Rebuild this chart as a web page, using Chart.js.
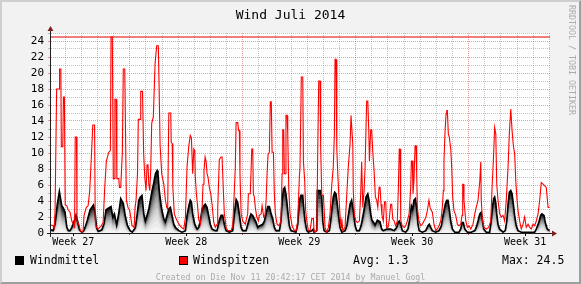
<!DOCTYPE html>
<html><head><meta charset="utf-8">
<script src="https://cdn.jsdelivr.net/npm/chart.js@4.4.1/dist/chart.umd.min.js"></script>
<style>
html,body{margin:0;padding:0;background:#f2f2f2;}
#wrap{position:relative;width:581px;height:284px;background:#f2f2f2;overflow:hidden;font-family:'DejaVu Sans Mono',monospace;}
#c{position:absolute;left:0;top:0;}
#frame{position:absolute;left:0;top:0;width:581px;height:284px;box-sizing:border-box;border:2px solid;border-color:#cfcfcf #9e9e9e #9e9e9e #cfcfcf;pointer-events:none;}
.t{position:absolute;white-space:pre;color:#000;}
#title{left:0;width:581px;text-align:center;top:7px;font-size:13px;line-height:15px;}
.leg{top:253px;font-size:11.5px;line-height:14px;}
.box{position:absolute;width:7px;height:7px;border:1px solid #000;top:256px;}
#wm{position:absolute;left:567px;top:5px;writing-mode:vertical-rl;font-size:8.3px;line-height:10px;color:#ababab;white-space:pre;}
#foot{left:0;width:581px;text-align:center;top:272px;font-size:8.3px;line-height:10px;color:#ababab;}
</style></head>
<body>
<div id="wrap">
<canvas id="c" width="581" height="284"></canvas>
<div id="title" class="t"></div>
<div class="box" style="left:15px;background:#000;"></div>
<div id="l1" class="t leg" style="left:30px;"></div>
<div class="box" style="left:179px;background:#ff0000;"></div>
<div id="l2" class="t leg" style="left:193px;"></div>
<div id="l3" class="t leg" style="left:353px;"></div>
<div id="l4" class="t leg" style="left:502px;"></div>
<div id="wm"></div>
<div id="foot" class="t"></div>
<div id="frame"></div>
</div>
<script>
// ---- data (x = day of July 2014, y = m/s) ----
const chartTitle = 'Wind Juli 2014';
const seriesNames = ['Windmittel', 'Windspitzen'];
const avgMean = 1.3;
const maxGust = 24.5;
const rangeStart = 2.12;
const rangeEnd = 33.04;
const dayGridTicks = [3,4,5,6,7,8,9,10,11,12,13,14,15,16,17,18,19,20,21,22,23,24,25,26,27,28,29,30,31,32,33];
const weekTickDays = [3.5, 10.5, 17.5, 24.5, 31.5];
const weekLabels = ['Week 27','Week 28','Week 29','Week 30','Week 31'];
const yTicks = [0,1,2,3,4,5,6,7,8,9,10,11,12,13,14,15,16,17,18,19,20,21,22,23,24,25];

const gustReadings = [
[2.12,1.0],[2.25,0.9],[2.31,0.6],[2.37,2.6],[2.47,18.0],[2.62,18.0],[2.65,20.5],[2.73,20.5],[2.76,10.8],[2.85,10.8],
[2.89,17.0],[2.95,17.0],[3.00,3.5],[3.10,3.4],[3.18,2.9],[3.30,2.6],[3.41,1.5],[3.55,0.9],[3.58,0.6],[3.62,12.0],
[3.70,12.0],[3.73,1.5],[3.84,1.1],[3.94,0.3],[4.04,0.1],[4.11,0.3],[4.17,2.2],[4.31,3.2],[4.42,3.4],[4.52,5.3],
[4.62,9.5],[4.71,13.5],[4.82,13.5],[4.86,1.5],[4.93,0.7],[5.04,0.5],[5.14,0.7],[5.24,0.9],[5.35,1.3],[5.45,5.7],
[5.55,9.0],[5.70,10.1],[5.80,10.3],[5.84,24.5],[5.92,24.5],[5.98,6.8],[6.06,6.8],[6.08,16.7],[6.16,16.7],[6.20,6.8],
[6.32,6.8],[6.36,5.7],[6.44,5.7],[6.54,10.0],[6.60,20.5],[6.69,20.5],[6.79,4.1],[6.89,3.2],[7.00,2.8],[7.14,0.9],
[7.27,0.7],[7.33,3.2],[7.39,4.1],[7.48,7.4],[7.53,14.2],[7.66,14.2],[7.68,17.7],[7.79,17.7],[7.86,10.0],[7.93,7.0],
[8.01,5.3],[8.07,8.5],[8.13,8.6],[8.18,6.1],[8.24,5.3],[8.30,8.0],[8.36,13.7],[8.46,14.5],[8.57,21.2],[8.67,23.4],
[8.77,23.4],[8.82,18.0],[8.88,11.0],[8.98,7.4],[9.11,6.1],[9.21,4.1],[9.29,3.2],[9.35,3.0],[9.42,15.0],[9.54,15.0],
[9.57,11.3],[9.63,11.2],[9.67,5.7],[9.76,2.4],[9.87,1.8],[10.04,1.1],[10.20,0.7],[10.35,0.5],[10.45,2.0],[10.55,8.3],
[10.66,10.9],[10.75,12.2],[10.82,11.9],[10.90,7.4],[10.97,10.5],[11.03,10.3],[11.06,7.0],[11.13,4.9],[11.21,3.2],[11.27,1.7],
[11.37,1.1],[11.48,3.0],[11.54,6.1],[11.60,7.8],[11.67,9.5],[11.73,9.0],[11.79,7.4],[11.85,7.0],[11.93,5.7],[12.02,4.9],
[12.10,3.6],[12.20,1.4],[12.30,0.7],[12.41,1.1],[12.45,3.0],[12.55,9.2],[12.66,9.5],[12.72,9.5],[12.80,5.3],[12.86,2.4],
[12.97,0.7],[13.07,0.3],[13.28,0.3],[13.38,0.9],[13.48,5.3],[13.54,8.2],[13.59,13.8],[13.69,13.8],[13.75,12.8],[13.79,12.8],
[13.83,7.4],[13.90,2.4],[14.00,1.5],[14.16,1.1],[14.31,2.4],[14.35,4.9],[14.47,4.9],[14.56,10.5],[14.62,10.5],[14.66,4.9],
[14.72,4.5],[14.78,3.2],[14.87,2.0],[14.97,1.5],[15.03,2.2],[15.14,2.4],[15.20,3.4],[15.24,3.4],[15.30,2.0],[15.38,2.2],
[15.45,4.1],[15.51,7.4],[15.57,9.8],[15.65,10.1],[15.71,16.4],[15.77,16.4],[15.82,10.1],[15.90,10.1],[15.96,4.9],[16.02,2.4],
[16.13,1.1],[16.27,0.9],[16.37,1.6],[16.44,7.4],[16.48,12.9],[16.54,12.9],[16.58,7.4],[16.64,7.4],[16.68,14.7],[16.75,14.7],
[16.79,12.4],[16.85,5.7],[16.93,2.4],[17.06,0.9],[17.20,0.3],[17.30,0.3],[17.41,1.5],[17.47,4.9],[17.51,7.0],[17.55,8.2],
[17.63,19.5],[17.72,19.5],[17.76,9.0],[17.84,6.5],[17.90,2.8],[17.97,1.5],[18.07,0.3],[18.17,0.3],[18.28,1.8],[18.38,1.8],
[18.42,0.3],[18.48,0.1],[18.59,0.3],[18.65,10.5],[18.71,19.0],[18.79,19.0],[18.83,10.5],[18.90,4.7],[19.00,4.7],[19.06,2.4],
[19.10,0.7],[19.21,0.1],[19.31,0.7],[19.41,2.4],[19.52,6.1],[19.61,8.2],[19.68,12.4],[19.72,21.7],[19.78,21.7],[19.83,10.5],
[19.89,7.4],[19.95,4.9],[20.03,2.2],[20.09,0.7],[20.14,1.8],[20.20,0.3],[20.34,0.7],[20.45,4.9],[20.54,8.2],[20.65,11.1],
[20.71,14.7],[20.77,14.7],[20.82,11.1],[20.85,5.3],[20.92,2.2],[21.02,1.5],[21.10,1.3],[21.23,1.5],[21.31,4.9],[21.37,8.9],
[21.44,3.2],[21.52,5.3],[21.58,8.2],[21.68,16.5],[21.75,16.5],[21.81,12.8],[21.85,9.0],[21.93,12.9],[21.99,12.9],[22.06,10.1],
[22.14,7.8],[22.22,4.5],[22.30,4.1],[22.37,3.2],[22.45,5.7],[22.51,5.7],[22.57,3.6],[22.63,2.2],[22.71,1.5],[22.79,3.9],
[22.86,3.9],[22.92,0.7],[23.00,0.7],[23.07,1.5],[23.17,3.6],[23.23,3.6],[23.30,1.7],[23.38,1.5],[23.48,0.9],[23.58,1.5],
[23.64,5.3],[23.70,10.5],[23.75,10.5],[23.79,1.6],[23.89,0.9],[24.00,0.7],[24.10,0.9],[24.20,1.5],[24.31,2.4],[24.41,5.7],
[24.45,9.0],[24.51,9.0],[24.55,4.9],[24.61,6.5],[24.68,10.9],[24.74,10.9],[24.78,7.4],[24.82,3.2],[24.92,1.5],[25.03,0.9],
[25.13,1.1],[25.23,1.5],[25.34,1.9],[25.44,2.8],[25.54,4.1],[25.61,3.2],[25.69,2.8],[25.75,2.6],[25.85,1.1],[25.96,0.3],
[26.06,0.5],[26.16,0.9],[26.27,1.5],[26.37,3.2],[26.43,5.3],[26.47,9.0],[26.54,12.8],[26.60,14.9],[26.64,15.3],[26.68,15.3],
[26.74,12.4],[26.80,12.0],[26.89,10.5],[26.95,8.2],[27.01,4.5],[27.09,2.8],[27.20,2.2],[27.30,1.1],[27.40,0.9],[27.51,1.1],
[27.59,2.2],[27.63,6.1],[27.67,6.1],[27.71,4.1],[27.82,1.5],[27.92,0.7],[28.02,0.9],[28.13,0.5],[28.27,1.1],[28.38,2.4],
[28.47,3.2],[28.58,4.1],[28.69,6.5],[28.75,8.9],[28.78,4.1],[28.85,1.7],[28.95,0.7],[29.09,0.5],[29.24,0.7],[29.37,1.5],
[29.45,5.7],[29.53,9.0],[29.61,13.2],[29.68,12.4],[29.74,6.1],[29.82,4.1],[29.92,2.4],[30.02,2.0],[30.13,2.2],[30.23,1.5],
[30.33,4.1],[30.44,8.2],[30.52,12.4],[30.61,15.5],[30.69,12.8],[30.77,10.9],[30.85,9.9],[30.92,6.5],[31.00,4.1],[31.06,2.8],
[31.16,1.5],[31.26,0.5],[31.37,1.1],[31.47,2.0],[31.57,0.7],[31.68,1.1],[31.78,0.7],[31.88,0.5],[31.99,1.1],[32.09,0.9],
[32.19,1.5],[32.30,2.4],[32.40,4.1],[32.50,6.3],[32.61,6.1],[32.71,5.9],[32.81,5.7],[32.92,3.2],[33.01,3.2]
];

const meanReadings = [
[2.12,0.4],[2.25,0.3],[2.37,1.1],[2.51,3.6],[2.64,5.2],[2.79,3.4],[2.89,3.1],[2.99,2.6],[3.10,0.7],[3.20,0.3],
[3.30,0.3],[3.41,0.7],[3.51,1.2],[3.67,2.25],[3.78,1.4],[3.88,0.4],[4.03,0.1],[4.13,0.2],[4.23,0.7],[4.37,1.6],
[4.54,2.9],[4.75,3.5],[4.85,2.6],[4.95,0.6],[5.05,0.2],[5.27,0.4],[5.41,1.2],[5.53,2.9],[5.67,3.1],[5.84,3.3],
[5.95,2.0],[6.05,2.4],[6.19,1.0],[6.32,2.5],[6.44,4.3],[6.60,3.7],[6.71,2.3],[6.85,1.0],[7.02,0.3],[7.16,0.1],
[7.35,0.7],[7.45,2.2],[7.56,4.1],[7.66,4.5],[7.76,4.7],[7.87,2.4],[7.97,1.5],[8.07,2.2],[8.18,3.0],[8.28,4.1],
[8.38,5.3],[8.49,6.3],[8.59,7.4],[8.69,7.8],[8.75,7.4],[8.83,5.3],[8.96,3.2],[9.11,1.8],[9.21,1.4],[9.31,2.2],
[9.42,3.0],[9.52,3.2],[9.62,2.2],[9.73,1.1],[9.83,0.7],[10.04,0.3],[10.24,0.1],[10.45,0.3],[10.55,2.2],[10.66,3.4],
[10.75,4.1],[10.82,3.9],[10.90,2.4],[11.03,1.1],[11.17,0.5],[11.27,0.7],[11.37,1.5],[11.48,3.0],[11.59,3.4],[11.68,3.6],
[11.79,3.2],[11.89,2.2],[11.99,1.1],[12.10,0.5],[12.30,0.3],[12.41,0.3],[12.55,1.6],[12.66,2.2],[12.76,2.2],[12.86,1.1],
[12.97,0.3],[13.17,0.1],[13.38,0.3],[13.48,2.4],[13.59,4.2],[13.69,3.8],[13.79,2.4],[13.90,0.7],[14.00,0.3],[14.21,0.3],
[14.31,1.1],[14.41,1.8],[14.51,2.4],[14.62,2.2],[14.72,1.8],[14.82,1.4],[14.93,0.7],[15.03,0.9],[15.24,1.1],[15.34,1.5],
[15.45,2.5],[15.55,3.3],[15.65,3.3],[15.75,2.5],[15.86,1.8],[15.96,0.7],[16.06,0.3],[16.27,0.3],[16.37,1.5],[16.44,4.0],
[16.52,5.5],[16.60,5.7],[16.68,4.9],[16.75,3.6],[16.81,2.4],[16.89,0.9],[16.99,0.3],[17.30,0.1],[17.41,1.1],[17.51,4.1],
[17.61,4.7],[17.72,4.7],[17.76,3.6],[17.86,1.5],[17.97,0.3],[18.07,0.1],[18.28,0.3],[18.38,0.5],[18.42,0.1],[18.59,0.3],
[18.62,5.3],[18.83,5.3],[18.90,4.5],[18.96,1.5],[19.04,0.3],[19.21,0.1],[19.37,0.3],[19.45,1.5],[19.53,3.2],[19.61,4.5],
[19.70,5.1],[19.78,4.9],[19.86,3.6],[19.95,2.0],[20.03,0.7],[20.14,0.1],[20.34,0.3],[20.45,0.9],[20.54,2.2],[20.65,3.6],
[20.75,4.1],[20.85,2.9],[20.96,1.0],[21.06,0.3],[21.23,0.3],[21.33,0.9],[21.44,2.0],[21.54,3.2],[21.64,4.5],[21.75,4.9],
[21.83,4.1],[21.93,2.4],[22.01,1.6],[22.09,1.4],[22.20,1.0],[22.34,1.6],[22.51,1.4],[22.61,0.5],[22.71,0.3],[22.92,0.5],
[23.17,0.5],[23.38,0.3],[23.54,0.7],[23.62,1.3],[23.70,1.5],[23.79,1.1],[23.89,0.3],[24.10,0.1],[24.24,0.5],[24.37,2.0],
[24.45,3.4],[24.53,3.0],[24.61,4.1],[24.70,4.3],[24.78,3.2],[24.86,1.1],[24.94,0.3],[25.13,0.1],[25.34,0.3],[25.48,0.9],
[25.56,1.1],[25.65,0.7],[25.75,0.3],[25.96,0.1],[26.16,0.3],[26.31,0.9],[26.39,2.0],[26.47,2.8],[26.55,3.6],[26.64,4.1],
[26.72,4.1],[26.80,3.0],[26.89,1.5],[26.99,0.5],[27.14,0.1],[27.40,0.1],[27.51,0.5],[27.59,1.3],[27.67,1.3],[27.76,0.5],
[27.92,0.1],[28.16,0.1],[28.38,0.3],[28.47,0.7],[28.58,1.5],[28.69,2.4],[28.78,2.6],[28.85,1.7],[28.93,0.5],[29.09,0.1],
[29.30,0.1],[29.40,1.5],[29.47,3.2],[29.55,4.3],[29.61,4.5],[29.68,3.8],[29.74,2.4],[29.82,1.1],[29.92,0.5],[30.13,0.1],
[30.27,0.3],[30.36,1.5],[30.44,3.6],[30.52,5.1],[30.61,5.3],[30.69,4.9],[30.77,3.6],[30.85,2.2],[30.95,0.9],[31.06,0.3],
[31.26,0.1],[32.09,0.1],[32.19,0.5],[32.34,1.3],[32.46,2.2],[32.54,2.4],[32.67,2.2],[32.75,1.3],[32.87,0.5],[33.01,0.3]
];

// ---- styling ----
const shadeLevels = [0.1,0.2,0.3,0.4,0.5,0.6,0.7,0.8,0.9,1.0];
const shadeGrays  = [244,236,225,210,190,165,135,100,60,20];
const minorGrid = 'rgba(143,143,143,0.55)';
const majorGrid = 'rgba(222,79,79,0.55)';

document.getElementById('title').textContent = chartTitle;
document.getElementById('l1').textContent = seriesNames[0];
document.getElementById('l2').textContent = seriesNames[1];
document.getElementById('l3').textContent = 'Avg: ' + avgMean.toFixed(1);
document.getElementById('l4').textContent = 'Max: ' + maxGust.toFixed(1);
document.getElementById('wm').textContent = 'RRDTOOL / TOBI OETIKER';
document.getElementById('foot').textContent = 'Created on Die Nov 11 20:42:17 CET 2014 by Manuel Gogl';

const toXY = (arr, f) => arr.map(p => ({x: p[0], y: p[1] * (f || 1)}));

const datasets = [
  {label: seriesNames[1], data: toXY(gustReadings), borderColor: '#ff0000', borderWidth: 1.1, fill: false, order: 0},
  {label: 'max', data: [{x: rangeStart, y: maxGust}, {x: rangeEnd, y: maxGust}], borderColor: '#e00000', borderWidth: 1.2, fill: false, order: 0},
  {label: seriesNames[0], data: toXY(meanReadings), borderColor: '#000000', borderWidth: 1.6, fill: false, order: 1}
];
shadeLevels.forEach((f, i) => {
  const g = shadeGrays[i];
  datasets.push({label: 'shade' + i, data: toXY(meanReadings, f), borderColor: 'rgba(0,0,0,0)', borderWidth: 0,
    backgroundColor: `rgb(${g},${g},${g})`, fill: 'origin', order: 2 + i});
});

const rrdPlugin = {
  id: 'rrd',
  beforeDraw(chart) {
    const {ctx, chartArea: a} = chart;
    ctx.save(); ctx.fillStyle = '#ffffff';
    ctx.fillRect(a.left, a.top, a.right - a.left, a.bottom - a.top);
    ctx.restore();
  },
  afterDatasetsDraw(chart) {
    const {ctx, chartArea: a} = chart;
    const x0 = a.left - 0.5, y0 = a.bottom + 0.5;
    ctx.save();
    ctx.strokeStyle = '#1f1f1f'; ctx.lineWidth = 1;
    ctx.beginPath(); ctx.moveTo(a.left - 4, y0); ctx.lineTo(a.right + 4, y0); ctx.stroke();
    ctx.beginPath(); ctx.moveTo(x0, a.bottom + 4); ctx.lineTo(x0, a.top - 4); ctx.stroke();
    ctx.fillStyle = '#801f1f';
    ctx.beginPath(); ctx.moveTo(a.right + 2, y0 - 3); ctx.lineTo(a.right + 2, y0 + 3); ctx.lineTo(a.right + 7, y0); ctx.closePath(); ctx.fill();
    ctx.beginPath(); ctx.moveTo(x0 - 3, a.top - 2); ctx.lineTo(x0 + 3, a.top - 2); ctx.lineTo(x0, a.top - 7); ctx.closePath(); ctx.fill();
    ctx.restore();
  }
};

Chart.defaults.font.family = "'DejaVu Sans Mono', monospace";
Chart.defaults.color = '#000';

new Chart(document.getElementById('c'), {
  type: 'line',
  data: {datasets},
  plugins: [rrdPlugin],
  options: {
    responsive: false, animation: false, devicePixelRatio: 1,
    layout: {padding: {top: 33, left: 0, right: 31, bottom: 31}},
    elements: {point: {radius: 0, hoverRadius: 0}, line: {tension: 0}},
    plugins: {legend: {display: false}, tooltip: {enabled: false}},
    scales: {
      x: {
        type: 'linear', position: 'bottom', min: rangeStart, max: rangeEnd, weight: 1,
        afterBuildTicks: s => { s.ticks = dayGridTicks.map(v => ({value: v})); },
        afterFit: s => { s.height = 0; },
        ticks: {display: false, autoSkip: false},
        grid: {color: c => (c.tick && c.tick.value % 7 === 0) ? majorGrid : minorGrid, lineWidth: 1,
               drawTicks: true, tickLength: 2, tickColor: c => (c.tick && c.tick.value % 7 === 0) ? '#d04040' : 'rgba(0,0,0,0)'},
        border: {display: false, dash: [1, 1]}
      },
      xw: {
        type: 'linear', position: 'bottom', min: rangeStart, max: rangeEnd, weight: 2,
        afterBuildTicks: s => { s.ticks = weekTickDays.map(v => ({value: v})); },
        afterFit: s => { s.height = 20; },
        ticks: {autoSkip: false, maxRotation: 0, padding: 0, font: {size: 10}, color: '#000',
                callback: (v, i) => weekLabels[i]},
        grid: {drawOnChartArea: false, drawTicks: true, tickLength: 3, tickColor: '#000', lineWidth: 1},
        border: {display: false}
      },
      y: {
        type: 'linear', min: 0, max: 25,
        afterBuildTicks: s => { s.ticks = yTicks.map(v => ({value: v})); },
        afterFit: s => { s.width = 51; },
        ticks: {autoSkip: false, padding: 4, font: {size: 11}, color: '#000',
                callback: v => (v % 2 === 0 && v <= 24) ? String(v) : ''},
        grid: {color: c => (c.tick && c.tick.value % 2 === 0) ? majorGrid : minorGrid, lineWidth: 1,
               drawTicks: true, tickLength: 3},
        border: {display: false, dash: [1, 1]}
      }
    }
  }
});
</script>
</body></html>
